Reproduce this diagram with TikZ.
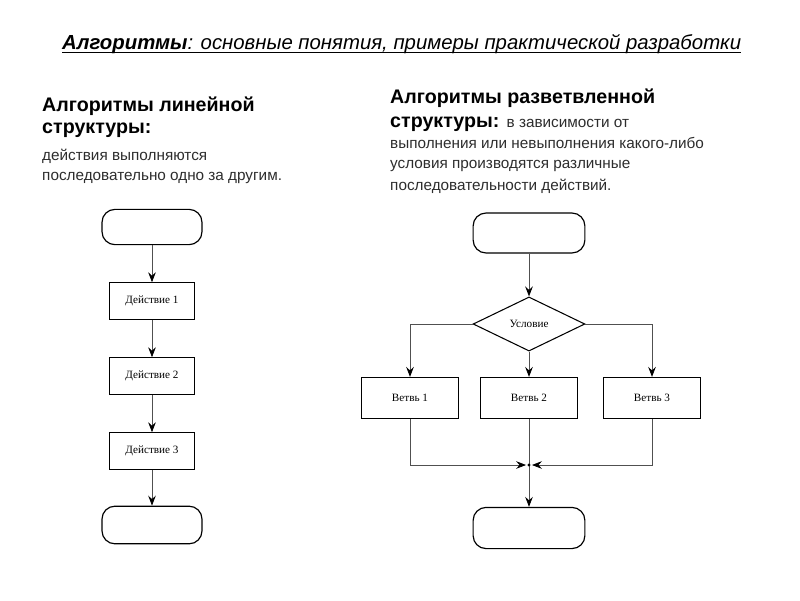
\documentclass[tikz,border=0pt]{standalone}
\usepackage{fontspec}
\setmainfont{Liberation Sans}
\newfontfamily\boxfont{Liberation Serif}
\usetikzlibrary{positioning,arrows.meta,shapes.geometric,calc}
\definecolor{linegray}{RGB}{80,80,80}
\definecolor{textgray}{RGB}{45,45,45}
\tikzset{
  terminal/.style={draw=black, line width=1pt, rounded corners=11pt},
  action/.style={draw=black, line width=0.9pt, minimum width=73pt, minimum height=31pt,
    font=\boxfont\fontsize{9.5}{11}\selectfont},
  branch/.style={action, minimum width=83pt, minimum height=35pt},
  decision/.style={diamond, draw=black, line width=0.9pt, minimum width=95pt,
    minimum height=46pt, inner sep=0pt, font=\boxfont\fontsize{9.5}{11}\selectfont},
  flow/.style={draw=linegray, line width=0.7pt,
    -{Stealth[length=8.5pt,width=6.5pt,inset=3pt,color=black]}},
  heading/.style={anchor=base west, inner sep=0pt, font=\bfseries\fontsize{16.7}{20}\selectfont},
  descr/.style={anchor=base west, inner sep=0pt, text=textgray, font=\fontsize{13}{15}\selectfont}
}

\begin{document}
\begin{tikzpicture}[x=0.85pt, y=-0.85pt]
  \useasboundingbox (0,0) rectangle (800,600);

  % title
  \node[anchor=base west, inner sep=0pt, font=\itshape\fontsize{17.3}{20}\selectfont] (title) at (62,49)
    {\textbf{Алгоритмы}: основные понятия, примеры практической разработки};
  \draw[line width=0.8pt] ($(title.base west)+(0,3.5)$) -- ($(title.base east)+(0,3.5)$);

  % left text
  \node[heading] (lhead1) at (42,111) {Алгоритмы линейной};
  \node[heading] (lhead2) at (42,133) {структуры:};
  \node[descr] (ldescr1) at (42,160) {действия выполняются};
  \node[descr] (ldescr2) at (42,180) {последовательно одно за другим.};

  % right text
  \node[heading] (rhead1) at (390,103) {Алгоритмы разветвленной};
  \node[heading] (rhead2) at (390,127) {структуры: \mdseries\fontsize{13}{15}\selectfont\color{textgray}в зависимости от};
  \node[descr] (rdescr1) at (390,148) {выполнения или невыполнения какого-либо};
  \node[descr] (rdescr2) at (390,168) {условия производятся различные};
  \node[descr] (rdescr3) at (390,190) {последовательности действий.};

  % linear flowchart
  \node[terminal, minimum width=85pt, minimum height=30pt] (lbegin) at (152,227) {};
  \node[action] (act1) at (152,301) {Действие 1};
  \node[action] (act2) at (152,376) {Действие 2};
  \node[action] (act3) at (152,451) {Действие 3};
  \node[terminal, minimum width=85pt, minimum height=32pt] (lend) at (152,525) {};

  \draw[flow] (lbegin) -- (act1);
  \draw[flow] (act1) -- (act2);
  \draw[flow] (act2) -- (act3);
  \draw[flow] (act3) -- (lend);

  % branching flowchart
  \node[terminal, minimum width=95pt, minimum height=34pt] (rbegin) at (529,233) {};
  \node[decision] (cond) at (529,324) {Условие};
  \node[branch] (br1) at (410,398) {Ветвь 1};
  \node[branch] (br2) at (529,398) {Ветвь 2};
  \node[branch] (br3) at (652,398) {Ветвь 3};
  \coordinate (merge) at (529,465);
  \node[terminal, minimum width=95pt, minimum height=35pt] (rend) at (529,528) {};

  \draw[flow] (rbegin) -- (cond);
  \draw[flow] (cond.west) -| (br1.north);
  \draw[flow] (cond.south) -- (br2.north);
  \draw[flow] (cond.east) -| (br3.north);
  \draw[flow, shorten >=2.5pt] (br1.south) |- (merge);
  \draw[flow, shorten >=2.5pt] (br3.south) |- (merge);
  \draw[flow] (br2.south) -- (rend.north);
  \fill[black] (merge) circle (1.6);
\end{tikzpicture}
\end{document}
